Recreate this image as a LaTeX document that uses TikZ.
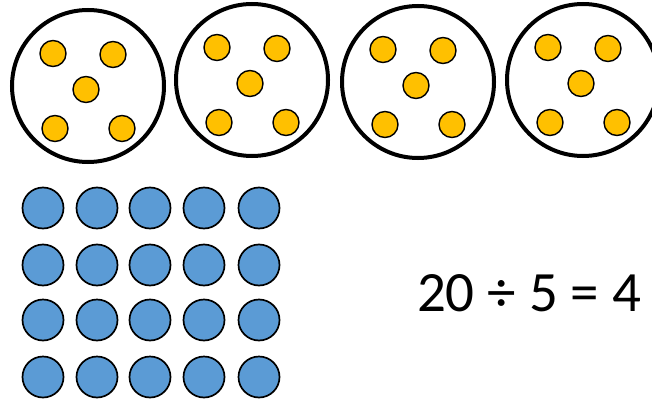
\documentclass[tikz,border=0pt]{standalone}
\usepackage{fontspec}
\newfontfamily\eqfont{Carlito}
\usetikzlibrary{positioning}
\definecolor{dotyellow}{HTML}{FFC000}
\definecolor{cntblue}{HTML}{5B9BD5}

\begin{document}
\begin{tikzpicture}[x=1pt, y=-1pt,
  group/.style={draw, circle, line width=4pt, minimum size=152pt, inner sep=0pt},
  dot/.style={draw, circle, fill=dotyellow, line width=1.4pt, minimum size=26pt, inner sep=0pt},
  counter/.style={draw, circle, fill=cntblue, line width=1.7pt, minimum size=41pt, inner sep=0pt}]
\useasboundingbox (0,0) rectangle (652,401);
% four groups of five
\foreach \i/\cx/\cy in {1/88/86, 2/252/80, 3/418/82, 4/583/80} {
  \node[group] (grp\i) at (\cx,\cy) {};
  \foreach \j/\dx/\dy in {1/-35/-32.5, 2/25/-31.5, 3/-2/3.5, 4/-33/42.5, 5/34/42.5}
    \node[dot] (dot\i-\j) at ([xshift=\dx pt, yshift=-\dy pt]grp\i.center) {};
}
% twenty counters, 4 rows of 5
\foreach \r/\y in {1/208, 2/265, 3/320, 4/377}
  \foreach \c/\x in {1/43, 2/97, 3/150, 4/204, 5/259}
    \node[counter] (cnt\r-\c) at (\x,\y) {};
\node[anchor=base, inner sep=0pt, font=\eqfont\fontsize{57}{60}\selectfont] (eq) at (529,311) {20 ÷ 5 = 4};
\end{tikzpicture}
\end{document}
